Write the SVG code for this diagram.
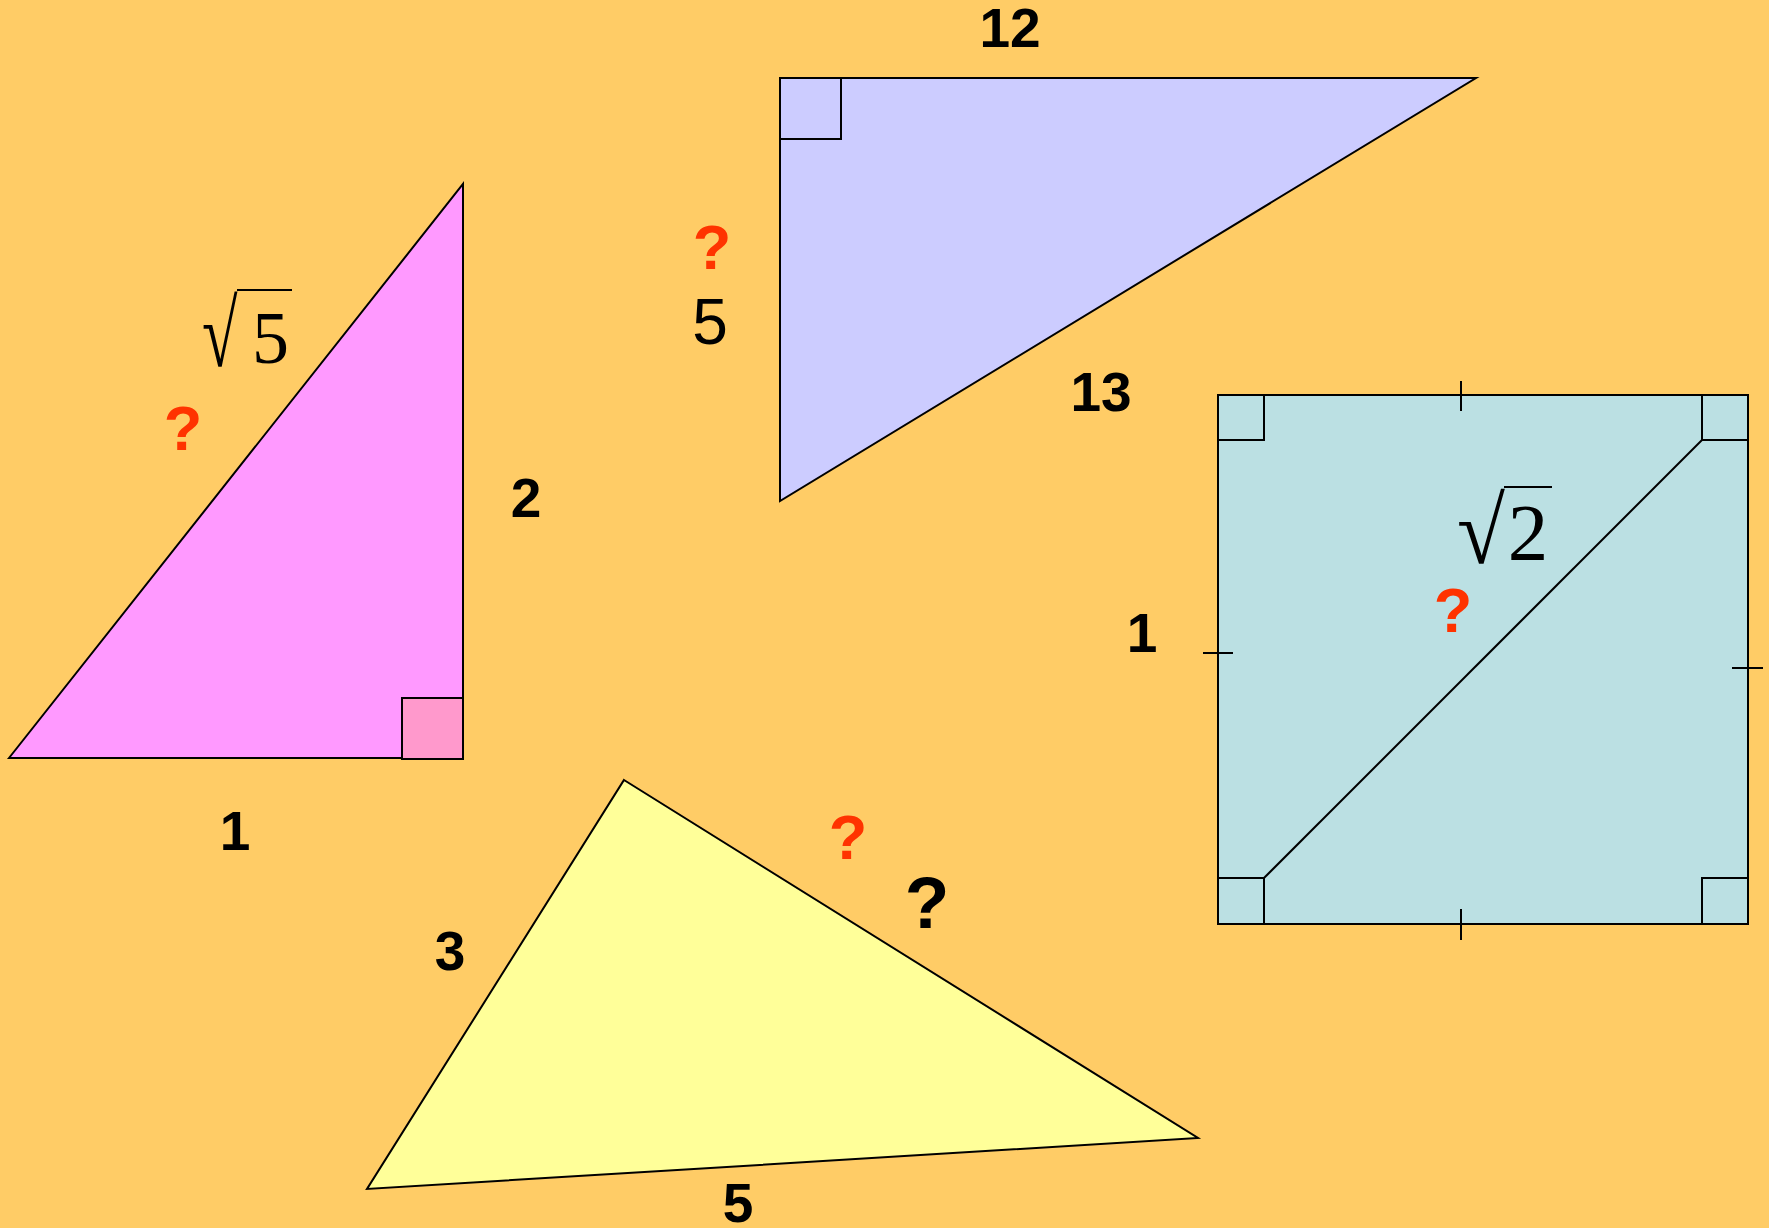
<svg xmlns="http://www.w3.org/2000/svg" width="1769" height="1228" viewBox="0 0 1769 1228">
<style>
.sh{stroke:#000;stroke-width:2;stroke-linejoin:miter}
.ln{stroke:#000;stroke-width:2;fill:none}
.lb{font-family:"Liberation Sans",Arial,sans-serif;font-weight:bold;font-size:55px;fill:#000;text-anchor:middle}
.big{font-size:73px}
.q{font-family:"Liberation Sans",Arial,sans-serif;font-weight:bold;font-size:63px;fill:#FF3300;text-anchor:middle}
.tm{font-family:"Liberation Serif","Times New Roman",serif;fill:#000}
</style>
<rect x="0" y="0" width="1769" height="1228" fill="#FFCC66"/>

<g id="pink-triangle">
<polygon class="sh" points="9,758 463,184 463,758" fill="#FF99FF"/>
<rect class="sh" x="402" y="698" width="61" height="61" fill="#FF99CC"/>
<text class="tm" transform="translate(202,366) scale(0.83,1.21)" font-size="78">√</text>
<line class="ln" x1="237" y1="290" x2="292" y2="290"/>
<text class="tm" x="252" y="363" font-size="74">5</text>
<text class="q" x="183" y="450">?</text>
<text class="lb" x="526" y="517">2</text>
<text class="lb" x="235" y="850">1</text>
</g>

<g id="blue-triangle">
<polygon class="sh" points="780,78 1476,78 780,501" fill="#CCCCFF"/>
<rect class="sh" x="780" y="78" width="61" height="61" fill="none"/>
<text class="lb" x="1010" y="47">12</text>
<text class="lb" x="1101" y="411">13</text>
<text class="q" x="712" y="269">?</text>
<text x="710" y="344" font-family="Liberation Sans,Arial,sans-serif" font-size="64" text-anchor="middle" fill="#000">5</text>
</g>

<g id="square">
<rect class="sh" x="1218" y="395" width="530" height="529" fill="#BBE0E3"/>
<rect class="ln" x="1218" y="395" width="46" height="45"/>
<rect class="ln" x="1702" y="395" width="46" height="45"/>
<rect class="ln" x="1218" y="878" width="46" height="46"/>
<rect class="ln" x="1702" y="878" width="46" height="46"/>
<line class="ln" x1="1702" y1="440" x2="1264" y2="878"/>
<line class="ln" x1="1461" y1="381" x2="1461" y2="411"/>
<line class="ln" x1="1461" y1="909" x2="1461" y2="940"/>
<line class="ln" x1="1203" y1="653" x2="1233" y2="653"/>
<line class="ln" x1="1732" y1="668" x2="1763" y2="668"/>
<text class="tm" transform="translate(1457,563) scale(1.04,1.12)" font-size="84">√</text>
<line class="ln" x1="1504" y1="487" x2="1552" y2="487"/>
<text class="tm" x="1528" y="560" font-size="81" text-anchor="middle">2</text>
<text class="q" x="1453" y="632">?</text>
<text class="lb" x="1142" y="652">1</text>
</g>

<g id="yellow-triangle">
<polygon class="sh" points="624,780 1198,1138 367,1189" fill="#FFFF99"/>
<text class="lb" x="450" y="970">3</text>
<text class="lb" x="738" y="1222">5</text>
<text class="q" x="848" y="859">?</text>
<text class="lb big" x="927" y="928">?</text>
</g>

<g id="connectors"></g>
</svg>
